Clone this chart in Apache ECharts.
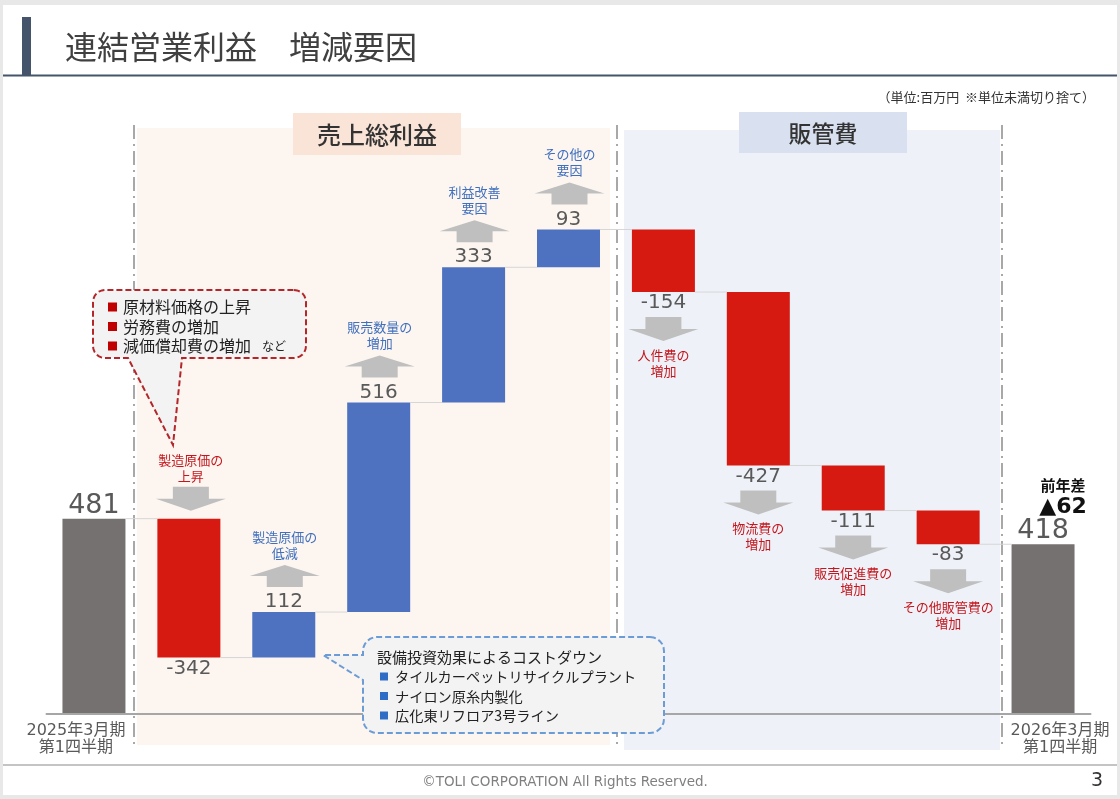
<!DOCTYPE html>
<html>
<head>
<meta charset="utf-8">
<title>連結営業利益 増減要因</title>
<style>
html,body{margin:0;padding:0;background:#e8e8e8;}
#chart1{width:1120px;height:799px;}
</style>
</head>
<body>
<div id="chart1"></div>
<script src="https://cdn.jsdelivr.net/npm/echarts@6/dist/echarts.min.js"></script>
<script>
// 値 (百万円)
var categories = ['2025年3月期\n第1四半期', '製造原価の\n上昇', '製造原価の\n低減', '販売数量の\n増加', '利益改善\n要因', 'その他の\n要因',
                  '人件費の\n増加', '物流費の\n増加', '販売促進費の\n増加', 'その他販管費の\n増加', '2026年3月期\n第1四半期'];
var values = [481, -342, 112, 516, 333, 93, -154, -427, -111, -83, 418];
var totalFlags = [1, 0, 0, 0, 0, 0, 0, 0, 0, 0, 1];
// up: 上向き矢印(棒の上) / down: 下向き矢印(棒の下) / downTop: 下向き矢印(棒の上)
var notePlace = ['', 'downTop', 'up', 'up', 'up', 'up', 'down', 'down', 'down', 'down', ''];
var diffTitle = '前年差';
var diffLabel = '▲62';
var costUpItems = ['原材料価格の上昇', '労務費の増加', '減価償却費の増加'];
var costDownTitle = '設備投資効果によるコストダウン';
var costDownItems = ['タイルカーペットリサイクルプラント', 'ナイロン原糸内製化', '広化東リフロア3号ライン'];
var unitText = '（単位:百万円  ※単位未満切り捨て）';

var FONT = '"Noto Sans CJK JP", "Noto Sans", sans-serif';
var NUMFONT = '"DejaVu Sans", "Noto Sans CJK JP", sans-serif';
var RED = '#d61a12', BLUE = '#4e72c0', GRAY = '#767171';
var BAR_W = 63;

var lows = [], highs = [], levels = [];
var run = 0;
values.forEach(function (v, i) {
    if (totalFlags[i]) {
        lows.push(0); highs.push(v); run = v;
    } else {
        var next = run + v;
        lows.push(Math.min(run, next)); highs.push(Math.max(run, next)); run = next;
    }
    levels.push(run);
});

function txt(text, x, y, size, color, extra) {
    var s = {text: text, x: x, y: y, fill: color, fontSize: size, fontFamily: FONT,
             align: 'center', verticalAlign: 'middle', lineHeight: 16};
    for (var k in (extra || {})) s[k] = extra[k];
    return {type: 'text', style: s};
}
function num(v, x, y, size) {
    return txt(String(v), x, y, size, '#595959', {fontFamily: NUMFONT});
}
function upArrow(cx, tip) {
    return {type: 'polygon', shape: {points: [[cx, tip], [cx + 35, tip + 11], [cx + 18, tip + 11], [cx + 18, tip + 22],
        [cx - 18, tip + 22], [cx - 18, tip + 11], [cx - 35, tip + 11]]}, style: {fill: '#bfbfbf'}};
}
function downArrow(cx, tip) {
    return {type: 'polygon', shape: {points: [[cx, tip], [cx + 35, tip - 12], [cx + 18, tip - 12], [cx + 18, tip - 24],
        [cx - 18, tip - 24], [cx - 18, tip - 12], [cx - 35, tip - 12]]}, style: {fill: '#bfbfbf'}};
}

function renderNotes(params, api) {
    var i = params.dataIndex;
    var v = values[i];
    var top = api.coord([i, api.value(2)]);
    var bot = api.coord([i, api.value(1)]);
    var cx = top[0];
    var band = api.size([1, 0])[0];
    var kids = [];
    if (i < values.length - 1) {
        var p = api.coord([i, levels[i]]);
        kids.push({type: 'line', shape: {x1: cx + BAR_W / 2, y1: p[1], x2: cx + band - BAR_W / 2, y2: p[1]},
                   style: {stroke: '#d6d6d6', lineWidth: 1}});
    }
    if (totalFlags[i]) {
        kids.push(num(v, cx, top[1] - 13, 27));
        if (i === values.length - 1) {
            kids.push(txt(diffTitle, cx + 20, top[1] - 59, 15, '#111', {fontWeight: 'bold'}));
            kids.push(txt(diffLabel, cx + 20, top[1] - 37, 22, '#111', {fontWeight: 'bold', fontFamily: NUMFONT}));
        }
    } else {
        var note = categories[i];
        var place = notePlace[i];
        if (v > 0) {
            kids.push(num(v, cx, top[1] - 10, 20));
            var tip = top[1] - 47;
            kids.push(upArrow(cx + 1, tip));
            kids.push(txt(note, cx + 1, tip - 20, 13, '#3f6fbf'));
        } else {
            kids.push(num(v, cx, bot[1] + 11, 20));
            if (place === 'downTop') {
                var tipA = top[1] - 8;
                kids.push(downArrow(cx + 2, tipA));
                kids.push(txt(note, cx + 2, tipA - 43, 13, '#c5161d'));
            } else {
                var tipB = bot[1] + 49;
                kids.push(downArrow(cx, tipB));
                kids.push(txt(note, cx, tipB + 22, 13, '#c5161d'));
            }
        }
    }
    return {type: 'group', children: kids};
}

function gtext(text, x, y, size, color, extra) {
    var s = {text: text, x: x, y: y, fill: color, fontSize: size, fontFamily: FONT, verticalAlign: 'middle'};
    for (var k in (extra || {})) s[k] = extra[k];
    return {type: 'text', z: 20, style: s};
}

// 角丸の吹き出し形状
function arcPts(cx, cy, r, a0, a1) {
    var pts = [];
    for (var t = 0; t <= 6; t++) {
        var a = (a0 + (a1 - a0) * t / 6) * Math.PI / 180;
        pts.push([cx + r * Math.cos(a), cy + r * Math.sin(a)]);
    }
    return pts;
}
function callout(x, y, w, h, r, tail, side) {
    var pts = [].concat(arcPts(x + w - r, y + r, r, -90, 0), arcPts(x + w - r, y + h - r, r, 0, 90));
    if (side === 'bottom') pts = pts.concat(tail);
    pts = pts.concat(arcPts(x + r, y + h - r, r, 90, 180));
    if (side === 'left') pts = pts.concat(tail);
    pts = pts.concat(arcPts(x + r, y + r, r, 180, 270));
    return pts;
}

var graphics = [
    {type: 'rect', z: -5, shape: {x: 3, y: 5, width: 1114, height: 790}, style: {fill: '#ffffff'}},
    // タイトル
    {type: 'rect', z: 1, shape: {x: 22, y: 17, width: 9, height: 58}, style: {fill: '#44546a'}},
    {type: 'line', z: 1, shape: {x1: 3, y1: 75.5, x2: 1117, y2: 75.5}, style: {stroke: '#44546a', lineWidth: 2}},
    gtext('連結営業利益　増減要因', 65, 47, 32, '#404040'),
    gtext(unitText, 1095, 97, 13, '#333', {align: 'right'}),
    // パネル
    {type: 'rect', z: -4, shape: {x: 137, y: 128, width: 473, height: 617}, style: {fill: '#fdf6f0'}},
    {type: 'rect', z: -4, shape: {x: 624, y: 130, width: 376, height: 620}, style: {fill: '#eef2f8'}},
    {type: 'rect', z: -3, shape: {x: 293, y: 113, width: 168, height: 42}, style: {fill: '#fae4d7'}},
    {type: 'rect', z: -3, shape: {x: 739, y: 112, width: 168, height: 41}, style: {fill: '#d9e1f1'}},
    gtext('売上総利益', 377, 135, 24, '#333', {align: 'center', fontWeight: 500}),
    gtext('販管費', 823, 133, 23, '#333', {align: 'center', fontWeight: 500}),
    // 区切り線
    {type: 'line', z: -2, shape: {x1: 134, y1: 125, x2: 134, y2: 745}, style: {stroke: '#8c8c8c', lineWidth: 1.5, lineDash: [14, 5, 2, 5]}},
    {type: 'line', z: -2, shape: {x1: 617, y1: 125, x2: 617, y2: 745}, style: {stroke: '#8c8c8c', lineWidth: 1.5, lineDash: [14, 5, 2, 5]}},
    {type: 'line', z: -2, shape: {x1: 1002, y1: 125, x2: 1002, y2: 745}, style: {stroke: '#8c8c8c', lineWidth: 1.5, lineDash: [14, 5, 2, 5]}},
    // 吹き出し (原価上昇)
    {type: 'polygon', z: 10, shape: {points: callout(93, 290, 213, 68, 12, [[182, 358], [173, 445], [128, 358]], 'bottom')},
     style: {fill: '#f3f3f3', stroke: '#b3262a', lineWidth: 2, lineDash: [6, 3]}},
    // 吹き出し (コストダウン)
    {type: 'polygon', z: 10, shape: {points: callout(363, 637, 301, 96, 14, [[363, 680], [323, 655], [363, 655]], 'left')},
     style: {fill: '#f3f3f3', stroke: '#6c9cd6', lineWidth: 2, lineDash: [6, 3]}},
    gtext(costDownTitle, 377, 657, 15, '#222'),
    // フッター
    {type: 'line', z: 1, shape: {x1: 3, y1: 765, x2: 1117, y2: 765}, style: {stroke: '#c4c4c4', lineWidth: 2}},
    gtext('©TOLI CORPORATION All Rights Reserved.', 565, 782, 13.5, '#7f7f7f', {align: 'center', fontFamily: NUMFONT}),
    gtext('3', 1097, 781, 19, '#333', {align: 'center', fontFamily: NUMFONT})
];
costUpItems.forEach(function (t, k) {
    var y = 307 + k * 19.5;
    graphics.push({type: 'rect', z: 20, shape: {x: 108, y: y - 4.5, width: 9, height: 9}, style: {fill: '#c00000'}});
    graphics.push(gtext(t, 123, y, 16, '#222'));
});
graphics.push(gtext('など', 262, 346, 12, '#222'));
costDownItems.forEach(function (t, k) {
    var y = 677 + k * 19.5;
    graphics.push({type: 'rect', z: 20, shape: {x: 380, y: y - 4.5, width: 8, height: 8}, style: {fill: '#2f6cc6'}});
    graphics.push(gtext(t, 395, y, 14.2, '#222'));
});

var chart = echarts.init(document.getElementById('chart1'));
var option = {
    backgroundColor: '#e8e8e8',
    animation: false,
    grid: {left: 46.5, right: 29.5, top: 149.5, bottom: 85},
    xAxis: {
        type: 'category',
        data: categories,
        z: 3,
        axisLine: {lineStyle: {color: '#a6a6a6', width: 2}},
        axisTick: {show: false},
        axisLabel: {
            interval: 0,
            margin: 8,
            formatter: function (val, idx) {
                if (!totalFlags[idx]) return '';
                var key = idx === 0 ? 'l' : 'r';
                return val.split('\n').map(function (s) { return '{' + key + '|' + s + '}'; }).join('\n');
            },
            rich: {
                l: {fontSize: 16, color: '#595959', fontFamily: NUMFONT, lineHeight: 17, padding: [0, 36, 0, 0]},
                r: {fontSize: 16, color: '#595959', fontFamily: NUMFONT, lineHeight: 17, padding: [0, 0, 0, 34]}
            }
        }
    },
    yAxis: {type: 'value', min: 0, max: 1390, show: false, splitLine: {show: false}},
    series: [
        {
            name: 'base', type: 'bar', stack: 'wf', barWidth: BAR_W,
            itemStyle: {color: 'transparent'},
            data: lows
        },
        {
            name: 'delta', type: 'bar', stack: 'wf', barWidth: BAR_W,
            data: values.map(function (v, i) {
                return {value: highs[i] - lows[i],
                        itemStyle: {color: totalFlags[i] ? GRAY : (v > 0 ? BLUE : RED)}};
            })
        },
        {
            name: 'notes', type: 'custom', z: 5,
            renderItem: renderNotes,
            encode: {x: 0, y: [1, 2]},
            data: values.map(function (v, i) { return [i, lows[i], highs[i]]; })
        }
    ],
    graphic: {elements: graphics}
};
chart.setOption(option, true);
</script>
</body>
</html>
